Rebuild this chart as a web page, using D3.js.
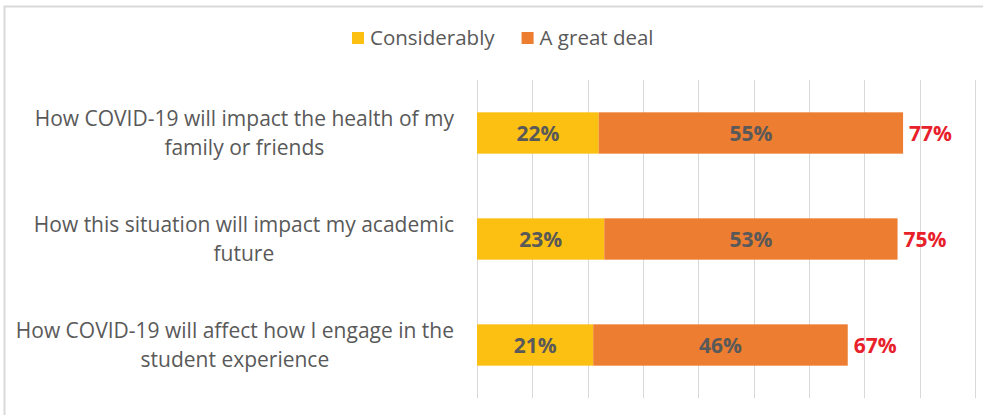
<!DOCTYPE html>
<html>
<head>
<meta charset="utf-8">
<script src="https://cdn.jsdelivr.net/npm/d3@7"></script>
<style>
  html, body { margin: 0; padding: 0; background: #fff; }
  svg { display: block; font-family: "Open Sans", sans-serif; }
</style>
</head>
<body>
<div id="chart"></div>
<script>
// data
const categories = [
  ["How COVID-19 will impact the health of my", "family or friends"],
  ["How this situation will impact my academic", "future"],
  ["How COVID-19 will affect how I engage in the", "student experience"]
]
const considerably = [0.22, 0.23, 0.21]
const greatDeal = [0.55, 0.53, 0.46]
const totalLabels = ["77%", "75%", "67%"]
const xTicks = [0, 0.1, 0.2, 0.3, 0.4, 0.5, 0.6, 0.7, 0.8, 0.9]
const seriesNames = ["Considerably", "A great deal"]
const colors = ["#FBC012", "#ED7D31"]

const W = 983, H = 415

const svg = d3.select("#chart").append("svg")
    .attr("width", W)
    .attr("height", H)

// outer chart frame (cropped on right and bottom)
svg.append("path")
    .attr("d", "M4.5,415 V6.5 H983")
    .attr("fill", "none")
    .attr("stroke", "#D9D9D9")
    .attr("stroke-width", 2)

const x = d3.scaleLinear().domain([0, 0.9]).range([477, 975])
const y = d3.scaleBand().domain(d3.range(categories.length)).range([80, 398])
    .paddingInner(0.61)
    .paddingOuter(0.305)

// gridlines
svg.append("g")
    .selectAll("line")
    .data(xTicks)
    .enter()
    .append("line")
        .attr("x1", d => Math.round(x(d)) + 0.5)
        .attr("x2", d => Math.round(x(d)) + 0.5)
        .attr("y1", 80)
        .attr("y2", 398)
        .attr("stroke", "#D9D9D9")
        .attr("stroke-width", 1)

// stacked bars
let rows = categories.map((c, i) => ({ i: i, a: considerably[i], b: greatDeal[i] }))

let bars = svg.append("g")
    .selectAll("g")
    .data(rows)
    .enter()
    .append("g")

bars.append("rect")
    .attr("x", x(0))
    .attr("y", d => y(d.i))
    .attr("width", d => x(d.a) - x(0))
    .attr("height", y.bandwidth())
    .attr("fill", colors[0])

bars.append("rect")
    .attr("x", d => x(d.a))
    .attr("y", d => y(d.i))
    .attr("width", d => x(d.a + d.b) - x(d.a))
    .attr("height", y.bandwidth())
    .attr("fill", colors[1])

// segment labels
bars.append("text")
    .attr("x", d => (x(0) + x(d.a)) / 2)
    .attr("y", d => y(d.i) + y.bandwidth() / 2)
    .attr("dy", "0.36em")
    .attr("text-anchor", "middle")
    .attr("font-size", 21)
    .attr("font-weight", "bold")
    .attr("fill", "#595959")
    .text(d => Math.round(d.a * 100) + "%")

bars.append("text")
    .attr("x", d => (x(d.a) + x(d.a + d.b)) / 2)
    .attr("y", d => y(d.i) + y.bandwidth() / 2)
    .attr("dy", "0.36em")
    .attr("text-anchor", "middle")
    .attr("font-size", 21)
    .attr("font-weight", "bold")
    .attr("fill", "#595959")
    .text(d => Math.round(d.b * 100) + "%")

// totals in red
bars.append("text")
    .attr("x", d => x(d.a + d.b) + 6)
    .attr("y", d => y(d.i) + y.bandwidth() / 2)
    .attr("dy", "0.36em")
    .attr("font-size", 21)
    .attr("font-weight", "bold")
    .attr("fill", "#E8202A")
    .text(d => totalLabels[d.i])

// category labels: lines centred, block right-aligned at the axis
let labels = svg.append("g")
    .selectAll("text")
    .data(categories)
    .enter()
    .append("text")
        .attr("font-size", 21)
        .attr("fill", "#595959")
        .attr("text-anchor", "middle")

labels.each(function (lines, i) {
    let t = d3.select(this)
    let cy = y(i) + y.bandwidth() / 2
    lines.forEach((line, k) => {
        t.append("tspan")
            .attr("y", cy + (k - (lines.length - 1) / 2) * 29)
            .attr("dy", "0.36em")
            .text(line)
    })
    let widest = d3.max(t.selectAll("tspan").nodes(), n => n.getComputedTextLength())
    t.selectAll("tspan").attr("x", 454 - widest / 2)
})

// legend
let legend = svg.append("g")
let lx = 352
seriesNames.forEach((name, i) => {
    legend.append("rect")
        .attr("x", lx)
        .attr("y", 32)
        .attr("width", 12)
        .attr("height", 12)
        .attr("fill", colors[i])
    let t = legend.append("text")
        .attr("x", lx + 18)
        .attr("y", 38)
        .attr("dy", "0.36em")
        .attr("font-size", 20.5)
        .attr("fill", "#595959")
        .text(name)
    lx += 18 + t.node().getComputedTextLength() + 27
})
</script>
</body>
</html>
